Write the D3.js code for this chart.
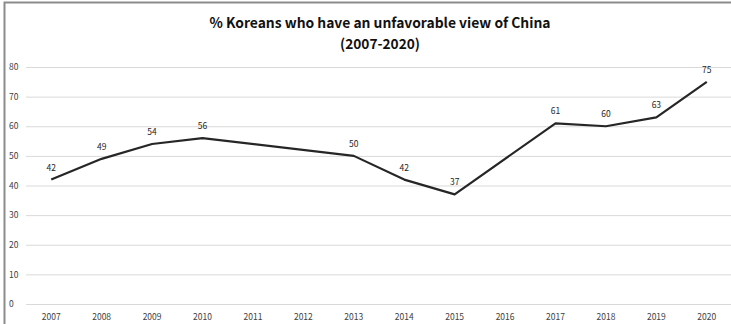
<!DOCTYPE html>
<html>
<head>
<meta charset="utf-8">
<script src="https://cdn.jsdelivr.net/npm/d3@7"></script>
<style>
  html, body { margin: 0; padding: 0; background: #fff; }
  svg { display: block; }
  text { font-family: "Noto Sans CJK KR", "Noto Sans", sans-serif; }
</style>
</head>
<body>
<svg id="chart" width="731" height="324"></svg>
<script>
// Survey years and share of respondents with an unfavorable view (null = no survey)
const years = ["2007","2008","2009","2010","2011","2012","2013","2014","2015","2016","2017","2018","2019","2020"];
const unfavorable = [42, 49, 54, 56, null, null, 50, 42, 37, null, 61, 60, 63, 75];
const yTicks = [0, 10, 20, 30, 40, 50, 60, 70, 80];
const titleLines = ["% Koreans who have an unfavorable view of China", "(2007-2020)"];

const svg = d3.select("#chart");
const W = 731, H = 324;
const margin = { left: 26, right: 0, top: 67, bottom: 20 };

// outer frame (left and top edges only are visible)
svg.append("path")
  .attr("d", `M4.5,${H} V2.5 H${W}`)
  .attr("fill", "none")
  .attr("stroke", "#8c8c8c")
  .attr("stroke-width", 2);

const x = d3.scaleBand().domain(years).range([margin.left, W + 1]);
const y = d3.scaleLinear().domain([0, 80]).range([304, 67]);

// title
svg.append("g").selectAll("text").data(titleLines).join("text")
  .attr("x", 380)
  .attr("y", (d, i) => 28 + i * 21)
  .attr("text-anchor", "middle")
  .attr("font-size", 14)
  .attr("font-weight", "bold")
  .attr("fill", "#111")
  .attr("textLength", (d, i) => i === 0 ? 341 : 80)
  .attr("lengthAdjust", "spacingAndGlyphs")
  .text(d => d);

// horizontal gridlines + y labels
const yAxis = svg.append("g")
  .attr("transform", `translate(${margin.left},0)`)
  .call(d3.axisLeft(y).tickValues(yTicks).tickSize(-(W - margin.left)).tickPadding(9).tickFormat(d3.format("d")));
yAxis.select(".domain").remove();
yAxis.selectAll(".tick line").attr("stroke", "#d9d9d9").attr("stroke-width", 1);
yAxis.selectAll(".tick text").attr("font-size", 8.5).attr("fill", "#404040")
  .attr("text-anchor", "start").attr("x", -17);

// x labels
const xAxis = svg.append("g")
  .attr("transform", `translate(0,${y(0)})`)
  .call(d3.axisBottom(x).tickSize(0).tickPadding(10));
xAxis.select(".domain").remove();
xAxis.selectAll(".tick text").attr("font-size", 8.5).attr("fill", "#404040");

// data line over surveyed years only
const pts = years.map((yr, i) => ({ yr, v: unfavorable[i] })).filter(d => d.v !== null);
const cx = d => x(d.yr) + x.bandwidth() / 2;

svg.append("path")
  .datum(pts)
  .attr("fill", "none")
  .attr("stroke", "#262626")
  .attr("stroke-width", 2.2)
  .attr("stroke-linejoin", "round")
  .attr("d", d3.line().x(cx).y(d => y(d.v)));

// value labels
svg.append("g").selectAll("text").data(pts).join("text")
  .attr("x", cx)
  .attr("y", d => y(d.v) - 9)
  .attr("text-anchor", "middle")
  .attr("font-size", 8.5)
  .attr("fill", "#262626")
  .text(d => d.v);
</script>
</body>
</html>
